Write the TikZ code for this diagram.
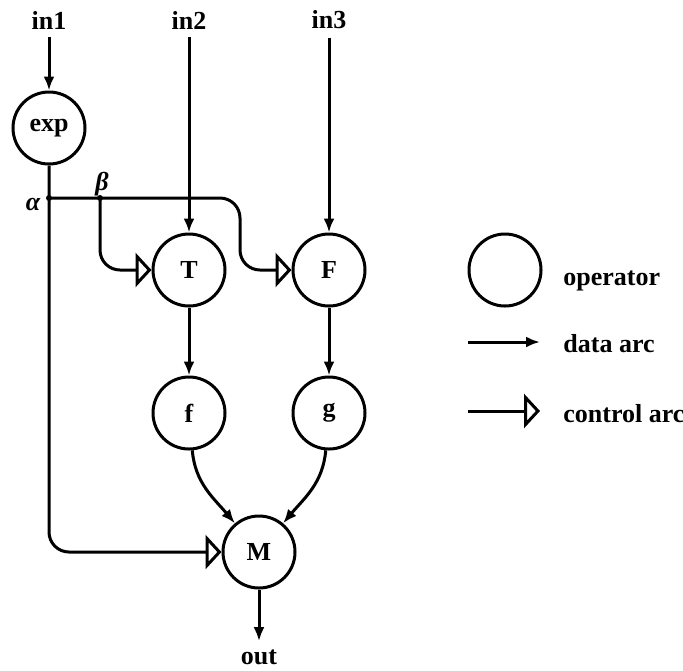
\documentclass[tikz,border=0pt]{standalone}
\usepackage{amsmath,amssymb}
\usepackage{fontspec}
\setmainfont{Liberation Serif}
\usepackage{tikz}
\usetikzlibrary{arrows.meta, positioning, calc}

\tikzset{
  op/.style={circle, draw, line width=1.5pt, minimum size=36pt, inner sep=0pt,
    font=\fontsize{13}{15}\selectfont\bfseries},
  lbl/.style={font=\fontsize{13}{15}\selectfont\bfseries, inner sep=1pt},
  iolbl/.style={lbl, inner sep=4pt},
  data/.style={line width=1.5pt, -{Latex[length=7pt, width=5.5pt]}},
  ctrl/.style={line width=1.5pt, rounded corners=10pt,
    -{Triangle[open, length=8pt, width=17pt, line width=1.5pt]}},
}

\begin{document}
\begin{tikzpicture}[x=0.5pt, y=-0.5pt]
  \useasboundingbox (0,0) rectangle (683,670);
  % inputs and output
  \node[iolbl] (in1) at (49,20) {in1};
  \node[iolbl] (in2) at (189,20) {in2};
  \node[iolbl] (in3) at (329,20) {in3};
  \node[iolbl] (out) at (259,657) {out};
  % operators
  \node[op] (exp) at (49,128) {exp};
  \node[op] (T) at (189,270) {T};
  \node[op] (F) at (329,270) {F};
  \node[op] (f) at (189,413) {f};
  \node[op] (g) at (329,413) {g};
  \node[op] (M) at (259,552) {M};
  % branch points
  \coordinate (alpha) at (49,198);
  \coordinate (beta) at (100,198);
  \coordinate (bend) at (240,198);
  \fill (alpha) circle (3);
  \fill (beta) circle (3);
  \node[lbl] (alab) at (33,204) {\itshape α};
  \node[lbl] (blab) at (102,184) {\itshape β};
  % data arcs
  \draw[data] (in1) -- (exp);
  \draw[data] (in2) -- (T);
  \draw[data] (in3) -- (F);
  \draw[data] (T) -- (f);
  \draw[data] (F) -- (g);
  \draw[data] (f) to[out=-85, in=130] (M);
  \draw[data] (g) to[out=-95, in=50] (M);
  \draw[data] (M) -- (out);
  % control arcs
  \draw[ctrl] (exp) -- (alpha |- M) -- (M);
  \draw[ctrl] (alpha) -- (bend) -- (bend |- F) -- (F);
  \draw[ctrl] (beta) -- (beta |- T) -- (T);
  % legend
  \node[op] (legop) at (505,270) {};
  \node[lbl, anchor=base west] (legoptxt) at (561,285) {operator};
  \coordinate (d1) at (468,342);
  \coordinate (d2) at (540,342);
  \draw[data] (d1) -- (d2);
  \node[lbl, anchor=base west] (legdata) at (561,352) {data arc};
  \coordinate (c1) at (468,411);
  \coordinate (c2) at (540,411);
  \draw[ctrl] (c1) -- (c2);
  \node[lbl, anchor=base west] (legctrl) at (561,422) {control arc};
\end{tikzpicture}
\end{document}
